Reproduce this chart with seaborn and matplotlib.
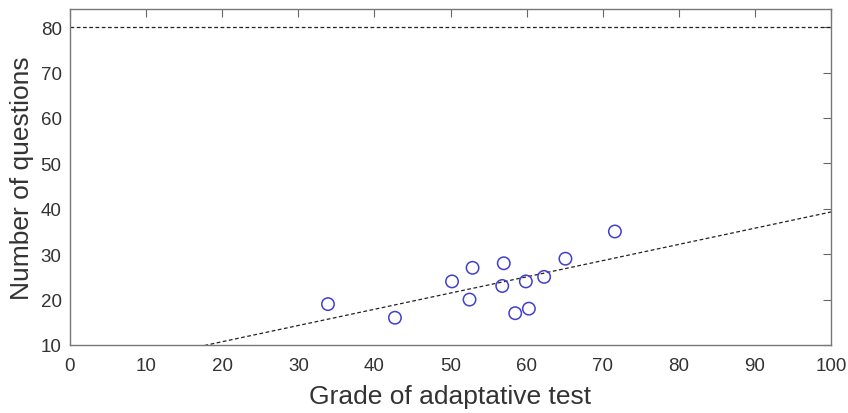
import numpy as np
import pandas as pd
import seaborn as sns
import matplotlib
matplotlib.use("Agg")
import matplotlib.pyplot as plt

# grade of adaptive test vs number of questions asked
grade = [33.9, 42.7, 50.2, 52.9, 52.5, 57.0, 56.8, 58.5, 60.3, 59.9, 62.3, 65.1, 71.6]
questions = [19, 16, 24, 27, 20, 28, 23, 17, 18, 24, 25, 29, 35]
max_questions = 80

x_ticks = list(range(0, 101, 10))
y_ticks = list(range(10, 81, 10))

df = pd.DataFrame({"grade": grade, "questions": questions})

sns.set_style("white")
plt.rcParams['font.family'] = ['Liberation Sans', 'DejaVu Sans']

fig = plt.figure(figsize=(8.48, 4.14), dpi=100)
ax = fig.add_axes([0.0825, 0.1643, 0.8975, 0.8115])
ax.set_xlim(0, 100)
ax.set_ylim(10, 84)

# least squares fit, extended over the whole x range
sns.regplot(data=df, x="grade", y="questions", ax=ax, scatter=False, ci=None,
            truncate=False, line_kws=dict(color="#222222", lw=0.9, ls=(0, (3, 2))))
ax.axhline(max_questions, color="#222222", lw=0.9, ls=(0, (3, 2)))

sns.scatterplot(data=df, x="grade", y="questions", ax=ax, marker="o", s=80,
                facecolor="none", edgecolor="#4040cc", linewidth=1.1, zorder=3)

ax.set_xlim(0, 100)
ax.set_ylim(10, 84)
ax.set_xticks(x_ticks)
ax.set_yticks(y_ticks)
ax.tick_params(direction="in", length=6, width=0.8, color="#666666",
               top=True, right=True, labelsize=13.5, labelcolor="#333333")
ax.tick_params(axis="x", pad=9)
ax.tick_params(axis="y", pad=6)
for sp in ax.spines.values():
    sp.set_color("#777777")
    sp.set_linewidth(1.0)

ax.set_xlabel("Grade of adaptative test", fontsize=19, color="#333333", labelpad=7)
ax.set_ylabel("Number of questions", fontsize=19, color="#333333", labelpad=5)

fig.savefig("out.png", dpi=100)
